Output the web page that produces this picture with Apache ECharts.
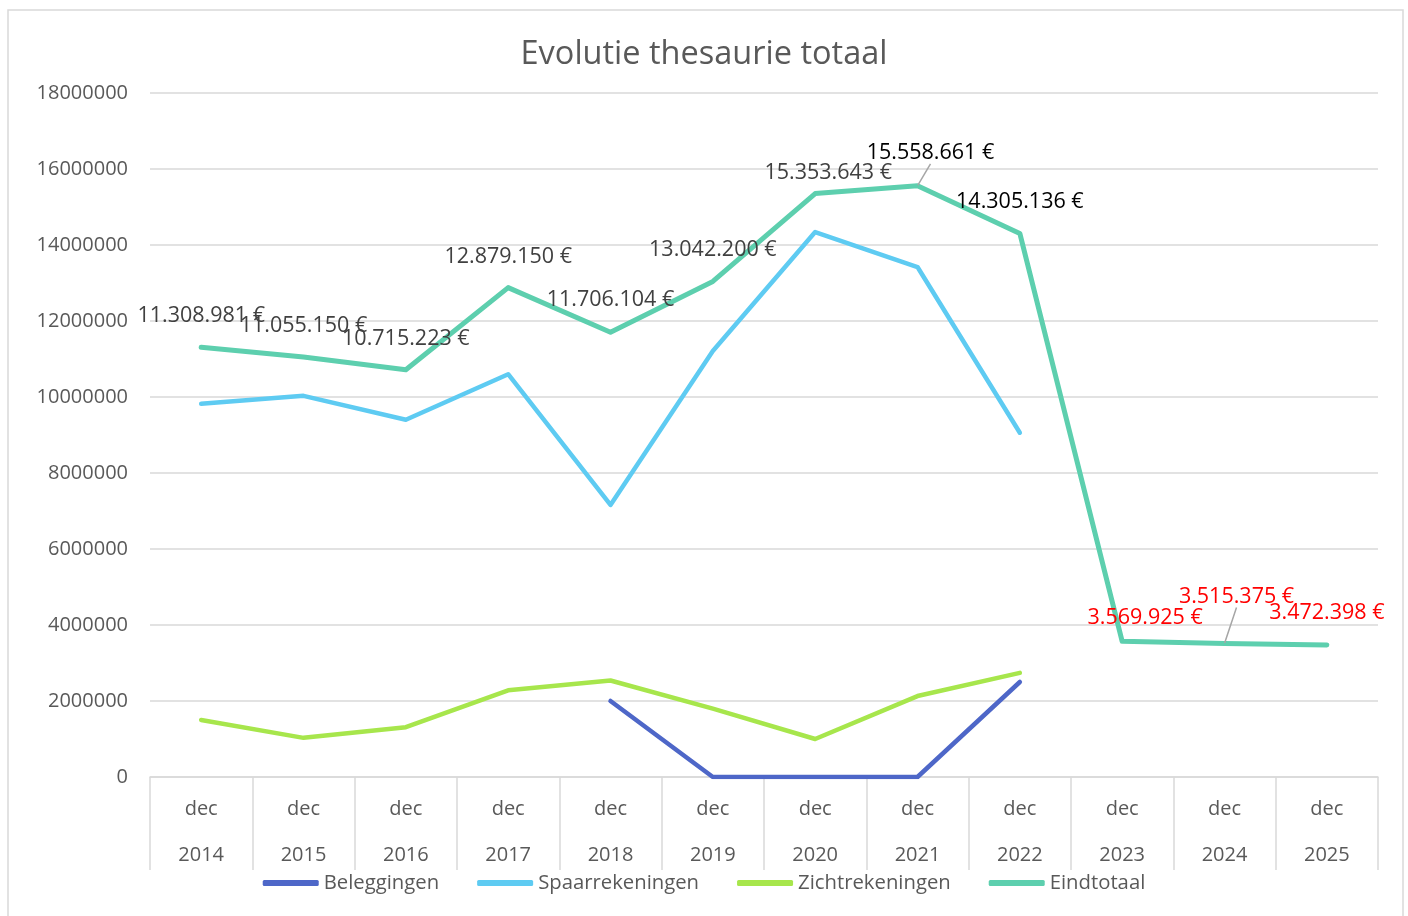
<!DOCTYPE html>
<html>
<head>
<meta charset="utf-8">
<title>Evolutie thesaurie totaal</title>
<script src="https://cdn.jsdelivr.net/npm/echarts@6/dist/echarts.min.js"></script>
<style>
  html, body { margin: 0; padding: 0; background: #fff; }
  #main { width: 1408px; height: 916px; }
</style>
</head>
<body>
<div id="main"></div>
<script>
// jaren op de x-as
var years = ['2014', '2015', '2016', '2017', '2018', '2019', '2020', '2021', '2022', '2023', '2024', '2025']
var months = ['dec', 'dec', 'dec', 'dec', 'dec', 'dec', 'dec', 'dec', 'dec', 'dec', 'dec', 'dec']

// waarden per reeks
var beleggingen = [null, null, null, null, 2000000, 0, 0, 0, 2500000, null, null, null]
var spaarrekeningen = [9820000, 10030000, 9400000, 10600000, 7160000, 11210000, 14340000, 13420000, 9060000, null, null, null]
var zichtrekeningen = [1500000, 1030000, 1310000, 2280000, 2540000, 1800000, 1000000, 2130000, 2740000, null, null, null]
var eindtotaal = [11308981, 11055150, 10715223, 12879150, 11706104, 13042200, 15353643, 15558661, 14305136, 3569925, 3515375, 3472398]

var yTicks = [0, 2000000, 4000000, 6000000, 8000000, 10000000, 12000000, 14000000, 16000000, 18000000]

// labelposities (verschuiving t.o.v. het punt) en kleuren
var labelShift = [[0, -31], [0, -31], [0, -31], [0, -31], [0, -32], [0, -32], [13, -21], [13, -33], [0, -32], [23, -23], [12, -47], [0, -32]]
var labelColor = ['#404040', '#404040', '#404040', '#404040', '#404040', '#404040', '#404040', '#000000', '#000000', '#ff0000', '#ff0000', '#ff0000']
var guideLine = [false, false, false, false, false, false, false, true, false, false, true, false]

var FONT = '"Open Sans", "Noto Sans", sans-serif'

function euro(v) {
  return String(v).replace(/\B(?=(\d{3})+(?!\d))/g, '.') + ' €'
}

var totaalData = eindtotaal.map(function (v, i) {
  return {
    value: v,
    label: { color: labelColor[i] },
    labelLine: { show: guideLine[i], lineStyle: { color: '#a6a6a6', width: 1.5 } }
  }
})

function lineSerie(name, data, color, z) {
  return {
    name: name,
    type: 'line',
    data: data,
    z: z,
    symbol: 'none',
    connectNulls: false,
    lineStyle: { color: color, width: 4.5, cap: 'round', join: 'round' },
    itemStyle: { color: color }
  }
}

var myChart = echarts.init(document.getElementById('main'))
myChart.setOption({
  animation: false,
  backgroundColor: '#fff',
  textStyle: { fontFamily: FONT },
  title: {
    text: 'Evolutie thesaurie totaal',
    left: 'center',
    top: 33,
    textStyle: { fontFamily: FONT, fontSize: 32.5, fontWeight: 'normal', color: '#595959' }
  },
  graphic: [{
    type: 'rect',
    shape: { x: 8, y: 10, width: 1395, height: 920 },
    style: { fill: 'none', stroke: '#d9d9d9', lineWidth: 1.5 },
    silent: true,
    z: -1
  }],
  legend: {
    bottom: 18,
    left: 'center',
    itemWidth: 56,
    itemHeight: 6,
    itemGap: 38,
    icon: 'roundRect',
    textStyle: { fontFamily: FONT, fontSize: 20.3, color: '#595959' },
    data: ['Beleggingen', 'Spaarrekeningen', 'Zichtrekeningen', 'Eindtotaal']
  },
  grid: { left: 150, right: 30, top: 93, bottom: 139, containLabel: false },
  xAxis: {
    type: 'category',
    boundaryGap: true,
    data: years.map(function (y, i) { return months[i] + '\n' + y }),
    axisLine: { lineStyle: { color: '#d9d9d9', width: 1.5 } },
    axisTick: { show: true, length: 93, alignWithLabel: false, lineStyle: { color: '#d9d9d9', width: 1.5 } },
    axisLabel: {
      margin: 9,
      verticalAlign: 'top',
      lineHeight: 46,
      fontFamily: FONT,
      fontSize: 20,
      color: '#595959'
    }
  },
  yAxis: {
    type: 'value',
    min: yTicks[0],
    max: yTicks[yTicks.length - 1],
    interval: 2000000,
    axisLine: { show: false },
    axisTick: { show: false },
    splitLine: { lineStyle: { color: '#d9d9d9', width: 1.5 } },
    axisLabel: {
      margin: 22,
      fontFamily: FONT,
      fontSize: 20,
      color: '#595959',
      formatter: function (v) { return String(v) }
    }
  },
  series: [
    lineSerie('Beleggingen', beleggingen, '#4e67c8', 2),
    lineSerie('Spaarrekeningen', spaarrekeningen, '#5ecbf2', 3),
    lineSerie('Zichtrekeningen', zichtrekeningen, '#a7e64c', 4),
    Object.assign(lineSerie('Eindtotaal', totaalData, '#5dcfae', 5), {
      symbol: 'circle',
      symbolSize: 1,
      showSymbol: true,
      lineStyle: { color: '#5dcfae', width: 5, cap: 'round', join: 'round' },
      label: {
        show: true,
        position: 'inside',
        fontFamily: FONT,
        fontSize: 21.5,
        formatter: function (p) { return euro(p.value) }
      },
      labelLayout: function (p) {
        var s = labelShift[p.dataIndex]
        return { dx: s[0], dy: s[1] }
      }
    })
  ]
})
window.addEventListener('resize', function () { myChart.resize() })
</script>
</body>
</html>
